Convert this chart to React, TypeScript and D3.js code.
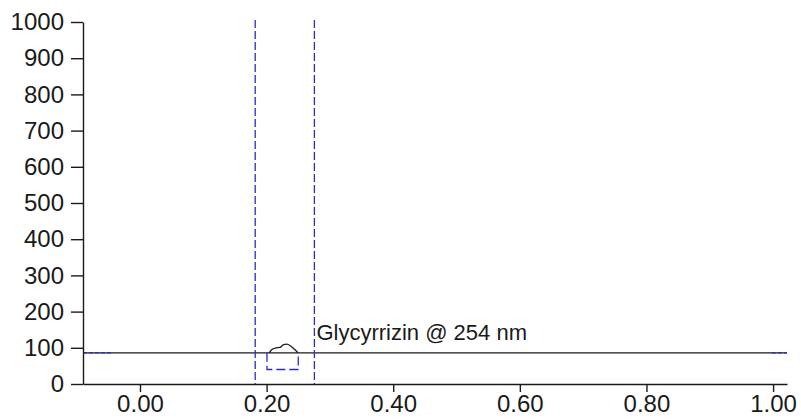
import * as d3 from "d3";
import { useEffect, useRef } from "react";

// values
const yTicks = [0, 100, 200, 300, 400, 500, 600, 700, 800, 900, 1000];
const xTicks = [0, 0.2, 0.4, 0.6, 0.8, 1.0];
const baselineLevel = 86;
const markerLines = [0.182, 0.2755];
const peakX = [0.204, 0.209, 0.215, 0.221, 0.227, 0.232, 0.238, 0.244, 0.25];
const peakY = [86, 96, 100, 101, 109, 110, 105, 96, 86];
const boxX = [0.2006, 0.2006, 0.25, 0.25];
const boxY = [86, 40, 40, 86];
const blueStubs = [[-0.09, -0.043], [0.998, 1.022]];
const label = "Glycyrrizin @ 254 nm";

const BLUE = "#2b2bc6";

function App() {
    const width = 801;
    const height = 419;
    const gx = useRef<SVGGElement>(null);
    const gy = useRef<SVGGElement>(null);

    const x = d3.scaleLinear().domain([-0.09, 1.022]).range([83, 787]);
    const y = d3.scaleLinear().domain([0, 1000]).range([384, 22]);

    useEffect(() => {
        const ax = d3.select(gx.current)
            .call(d3.axisBottom(x).tickValues(xTicks).tickFormat(d3.format(".2f")).tickSize(8).tickSizeOuter(0).tickPadding(3));
        ax.selectAll("text").style("font-size", "24px").style("font-family", "'Liberation Sans', Arial, sans-serif").attr("fill", "#1a1a1a");
        ax.selectAll("line,path").attr("stroke", "#1a1a1a").attr("stroke-width", 1.4);

        const ay = d3.select(gy.current)
            .call(d3.axisLeft(y).tickValues(yTicks).tickFormat(d3.format("d")).tickSize(12).tickSizeOuter(0).tickPadding(7));
        ay.selectAll("text").style("font-size", "24px").style("font-family", "'Liberation Sans', Arial, sans-serif").attr("fill", "#1a1a1a");
        ay.selectAll("line,path").attr("stroke", "#1a1a1a").attr("stroke-width", 1.4);
    }, [x, y]);

    const line = d3.line<[number, number]>().x(d => x(d[0])).y(d => y(d[1]));
    const peakPts = peakX.map((v, i) => [v, peakY[i]] as [number, number]);
    const boxPts = boxX.map((v, i) => [v, boxY[i]] as [number, number]);
    const peakTop = d3.max(peakY) as number;

    return (
        <svg width={width} height={height} style={{ position: "absolute", left: 0, top: 0, background: "white" }}>
            {/* baseline */}
            <line x1={x(-0.09)} x2={x(1.022)} y1={y(baselineLevel)} y2={y(baselineLevel)} stroke="#1a1a1a" strokeWidth={1.3} />
            {blueStubs.map((s, i) => (
                <line key={i} x1={x(s[0])} x2={x(s[1])} y1={y(baselineLevel)} y2={y(baselineLevel)} stroke={BLUE} strokeWidth={1.3} strokeDasharray="4,2" />
            ))}

            {/* integration markers */}
            {markerLines.map((m, i) => (
                <line key={i} x1={x(m)} x2={x(m)} y1={y(1000) - 2} y2={y(0)} stroke={BLUE} strokeWidth={1.3} strokeDasharray="8,3" />
            ))}

            {/* peak window */}
            <path d={line(boxPts) ?? ""} fill="none" stroke={BLUE} strokeWidth={1.3} strokeDasharray="9,4" />
            <path d={line.curve(d3.curveMonotoneX)(peakPts) ?? ""} fill="none" stroke="#1a1a1a" strokeWidth={1.3} />

            <text
                x={x(markerLines[1]) + 2}
                y={y(peakTop) - 4}
                fontSize="22px"
                fontFamily="'Liberation Sans', Arial, sans-serif"
                fill="#1a1a1a"
            >
                {label}
            </text>

            <g ref={gx} transform={`translate(0, ${y(0)})`} />
            <g ref={gy} transform={`translate(${x(-0.09)}, 0)`} />
        </svg>
    );
}

export default App;
